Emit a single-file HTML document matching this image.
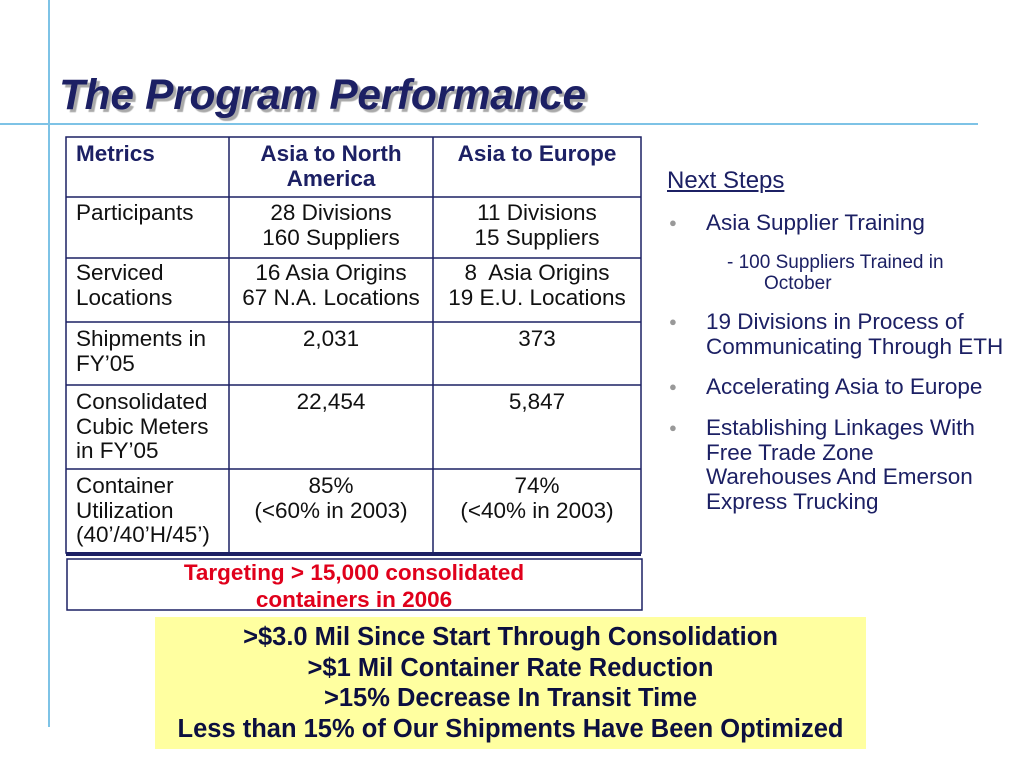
<!DOCTYPE html>
<html><head><meta charset="utf-8"><style>
body{margin:0;width:1024px;height:768px;background:#fff;position:relative;overflow:hidden;font-family:"Liberation Sans",Arial,sans-serif;color:#111}
.a{position:absolute}
.t{font-size:22.5px;line-height:24.5px;white-space:nowrap}
.c{text-align:center}
</style></head><body>
<div class="a" style="left:48px;top:0;width:2px;height:727px;background:#7ec3e6"></div>
<div class="a" style="left:0;top:123px;width:978px;height:2px;background:#7ec3e6"></div>
<div class="a" style="left:59px;top:72px;font-size:42.5px;font-weight:bold;font-style:italic;color:#1c2064;text-shadow:3px 3px 1px #a9a9a9;letter-spacing:-0.3px;white-space:nowrap">The Program Performance</div>

<svg class="a" style="left:0;top:0" width="1024" height="768">
<g stroke="#1c2064" stroke-width="1.5" fill="none">
<rect x="66" y="137" width="575" height="416"/>
<line x1="229" y1="137" x2="229" y2="553"/><line x1="433" y1="137" x2="433" y2="553"/>
<line x1="66" y1="197" x2="641" y2="197"/><line x1="66" y1="258" x2="641" y2="258"/>
<line x1="66" y1="322" x2="641" y2="322"/><line x1="66" y1="385" x2="641" y2="385"/>
<line x1="66" y1="469" x2="641" y2="469"/>
<rect x="67" y="559" width="575" height="51"/>
</g>
<rect x="66" y="552" width="575" height="4" fill="#1c2064"/>
</svg>

<div>
<div class="a t" style="left:76px;top:142px;font-weight:bold;color:#1c2064">Metrics</div>
<div class="a t c" style="left:229px;width:204px;top:142px;font-weight:bold;color:#1c2064">Asia to North<br>America</div>
<div class="a t c" style="left:433px;width:208px;top:142px;font-weight:bold;color:#1c2064">Asia to Europe</div>
<div class="a t" style="left:76px;top:201px">Participants</div>
<div class="a t c" style="left:229px;width:204px;top:201px">28 Divisions<br>160 Suppliers</div>
<div class="a t c" style="left:433px;width:208px;top:201px">11 Divisions<br>15 Suppliers</div>
<div class="a t" style="left:76px;top:261px">Serviced<br>Locations</div>
<div class="a t c" style="left:229px;width:204px;top:261px">16 Asia Origins<br>67 N.A. Locations</div>
<div class="a t c" style="left:433px;width:208px;top:261px">8&nbsp; Asia Origins<br>19 E.U. Locations</div>
<div class="a t" style="left:76px;top:327px">Shipments in<br>FY’05</div>
<div class="a t c" style="left:229px;width:204px;top:327px">2,031</div>
<div class="a t c" style="left:433px;width:208px;top:327px">373</div>
<div class="a t" style="left:76px;top:390px">Consolidated<br>Cubic Meters<br>in FY’05</div>
<div class="a t c" style="left:229px;width:204px;top:390px">22,454</div>
<div class="a t c" style="left:433px;width:208px;top:390px">5,847</div>
<div class="a t" style="left:76px;top:474px">Container<br>Utilization<br>(40’/40’H/45’)</div>
<div class="a t c" style="left:229px;width:204px;top:474px">85%<br>(&lt;60% in 2003)</div>
<div class="a t c" style="left:433px;width:208px;top:474px">74%<br>(&lt;40% in 2003)</div>
</div>
<div class="a c" style="left:124px;width:460px;top:559px;font-size:22.5px;line-height:27px;font-weight:bold;color:#e0001b;white-space:nowrap">Targeting &gt; 15,000 consolidated<br>containers in 2006</div>

<div class="a" style="left:667px;top:167px;font-size:24px;color:#1c2064;text-decoration:underline">Next Steps</div>
<div>
<div class="a" style="left:669px;top:215px;color:#999;font-size:13px">●</div>
<div class="a t" style="left:706px;top:211px;color:#1c2064">Asia Supplier Training</div>
<div class="a" style="left:727px;top:252px;font-size:19px;line-height:21px;color:#1c2064;white-space:nowrap">- 100 Suppliers Trained in<br>&nbsp;&nbsp;&nbsp;&nbsp;&nbsp;&nbsp;&nbsp;October</div>
<div class="a" style="left:669px;top:314px;color:#999;font-size:13px">●</div>
<div class="a t" style="left:706px;top:310px;color:#1c2064">19 Divisions in Process of<br>Communicating Through ETH</div>
<div class="a" style="left:669px;top:379px;color:#999;font-size:13px">●</div>
<div class="a t" style="left:706px;top:375px;color:#1c2064">Accelerating Asia to Europe</div>
<div class="a" style="left:669px;top:420px;color:#999;font-size:13px">●</div>
<div class="a t" style="left:706px;top:416px;color:#1c2064">Establishing Linkages With<br>Free Trade Zone<br>Warehouses And Emerson<br>Express Trucking</div>
</div>

<div class="a c" style="left:155px;top:617px;width:711px;height:132px;background:#ffffa0;font-size:25.5px;font-weight:bold;line-height:30.5px;color:#0c0f40;padding-top:5px;box-sizing:border-box;white-space:nowrap">&gt;$3.0 Mil Since Start Through Consolidation<br>&gt;$1 Mil Container Rate Reduction<br>&gt;15% Decrease In Transit Time<br>Less than 15% of Our Shipments Have Been Optimized</div>
</body></html>
